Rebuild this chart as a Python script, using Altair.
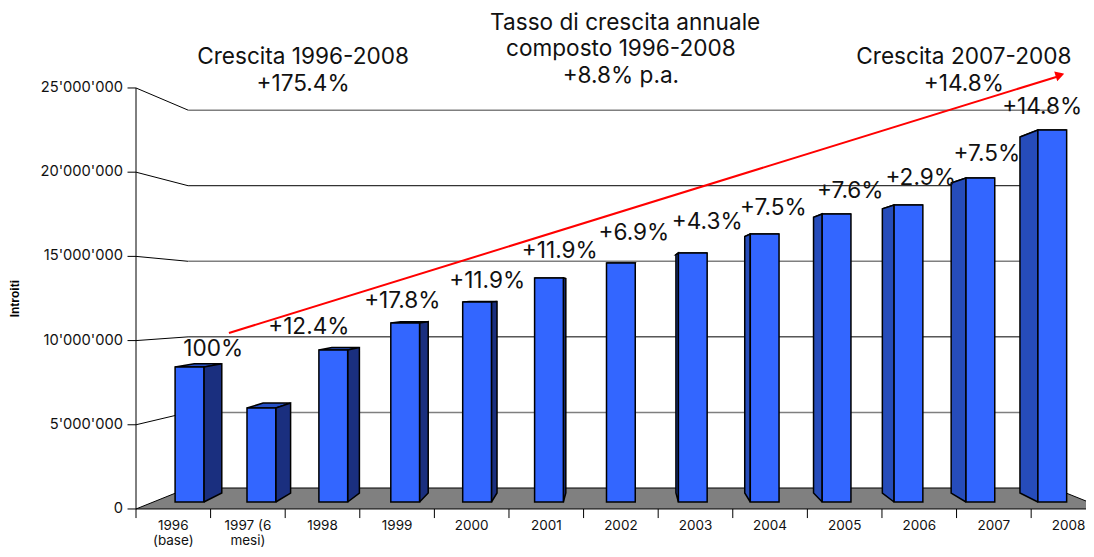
import altair as alt
import pandas as pd

years = ["1996", "1997 (6", "1998", "1999", "2000", "2001", "2002", "2003", "2004", "2005", "2006", "2007", "2008"]
years2 = ["(base)", "mesi)", "", "", "", "", "", "", "", "", "", "", ""]
revenue = [8.33, 5.8, 9.38, 11.05, 12.35, 13.83, 14.75, 15.37, 16.54, 17.78, 18.33, 20.0, 22.96]
ticks = [0, 5, 10, 15, 20, 25]
tick_labels = ["0", "5'000'000", "10'000'000", "15'000'000", "20'000'000", "25'000'000"]

# annotations: text, category position, revenue height (millions, in the bars' plane)
ann_text = ["Tasso di crescita annuale", "composto 1996-2008", "+8.8% p.a.",
            "Crescita 1996-2008", "+175.4%", "Crescita 2007-2008", "+14.8%",
            "100%", "+12.4%", "+17.8%", "+11.9%", "+11.9%", "+6.9%", "+4.3%",
            "+7.5%", "+7.6%", "+2.9%", "+7.5%", "+14.8%"]
ann_x = [6.06, 6.0, 6.0, 1.58, 1.58, 10.77, 10.77,
         0.33, 1.66, 2.96, 4.14, 5.15, 6.18, 7.2, 8.12, 9.19, 10.17, 11.09, 11.86]
ann_v = [29.57, 27.96, 26.3, 27.47, 25.8, 27.47, 25.8,
         9.44, 10.8, 12.4, 13.64, 15.5, 16.6, 17.3, 18.15, 19.2, 20.0, 21.5, 24.4]

X_MIN, X_MAX = -2.524, 12.469
Y_MIN, Y_MAX = -2.901, 30.494
VX, VY, VY_FRONT = 6.0, 12.9, 10.9
S_BAR = 0.957          # depth of a bar
SX_F, SY_F = 1.0375, 1.0395   # front of floor / axis plane
SX_B, SY_B = 0.926, 0.933     # back wall plane
HW = 0.2

xs = alt.Scale(domain=[X_MIN, X_MAX], range=[0, 1078], nice=False, zero=False)
ys = alt.Scale(domain=[Y_MIN, Y_MAX], range=[541, 0], nice=False, zero=False)
X = alt.X("x:Q", scale=xs, axis=None)
Y = alt.Y("y:Q", scale=ys, axis=None)


def px(x, s):
    return VX + (x - VX) * s


def py(v, s, vy=VY):
    return vy + (v - vy) * s


def fy(v):
    return py(v, SY_F, VY_FRONT)


def poly(rows, pid, pts):
    pts = list(pts) + [pts[0]]
    for k, (a, b) in enumerate(pts):
        rows.append({"pid": pid, "k": k, "x": a, "y": b})


def polygon_layer(rows, fill, width=1.5):
    return alt.Chart(pd.DataFrame(rows)).mark_line(
        fill=fill, stroke="black", strokeWidth=width, strokeJoin="miter"
    ).encode(x=X, y=Y, detail="pid:N", order="k:Q")


def line_layer(rows, color="black", width=1):
    return alt.Chart(pd.DataFrame(rows)).mark_line(stroke=color, strokeWidth=width).encode(
        x=X, y=Y, detail="pid:N", order="k:Q")


# walls / grid: tick, slanted wall line, then the line along the back wall
seg, back_black, back_gray = [], [], []
for sid, t in enumerate(ticks):
    pts = [(px(-0.5, SX_F) - 0.118, fy(t)), (px(-0.5, SX_F), fy(t))]
    if t > 0:
        pts.append((px(-0.5, SX_B), py(t, SY_B)))
        back = back_gray if t in (5, 15, 25) else back_black
        back.append({"pid": sid, "k": 0, "x": px(-0.5, SX_B), "y": py(t, SY_B)})
        back.append({"pid": sid, "k": 1, "x": px(12.5, SX_B), "y": py(t, SY_B)})
    for k, (a, b) in enumerate(pts):
        seg.append({"pid": sid, "k": k, "x": a, "y": b})
for k, t in enumerate([0, 25]):
    seg.append({"pid": 99, "k": k, "x": px(-0.5, SX_F), "y": fy(t)})
grid = line_layer(seg)
grid_black = line_layer(back_black)
grid_gray = line_layer(back_gray, "#7F7F7F", 1.5)

# floor
floor_rows = []
poly(floor_rows, 0, [(px(-0.5, SX_F), fy(0)), (px(12.5, SX_F), fy(0)),
                     (px(12.5, SX_B), py(0, SY_B)), (px(-0.5, SX_B), py(0, SY_B))])
floor = polygon_layer(floor_rows, "#808080", 1)

# axis ticks under the floor
tk = []
for i in range(14):
    xx = px(i - 0.5, SX_F)
    tk.append({"pid": i, "k": 0, "x": xx, "y": fy(0)})
    tk.append({"pid": i, "k": 1, "x": xx, "y": fy(0) - 0.56})
tick_marks = line_layer(tk)

# bar faces
right_rows, left_rows, top_rows = [], [], []
for i, v in enumerate(revenue):
    l, r = i - HW, i + HW
    bl, br = px(l, S_BAR), px(r, S_BAR)
    top_b, base_b = py(v, S_BAR), py(0, S_BAR)
    poly(top_rows, i, [(l, v), (r, v), (br, top_b), (bl, top_b)])
    if r < VX:
        poly(right_rows, i, [(r, 0), (r, v), (br, top_b), (br, base_b)])
    if l > VX:
        poly(left_rows, i, [(l, 0), (l, v), (bl, top_b), (bl, base_b)])

tops = polygon_layer(top_rows, "#2650C4")
rights = polygon_layer(right_rows, "#1A2F7F")
lefts = polygon_layer(left_rows, "#264CBA")

bars_df = pd.DataFrame({"l": [i - HW for i in range(13)], "r": [i + HW for i in range(13)],
                        "v": revenue, "z": [0] * 13})
fronts = alt.Chart(bars_df).mark_rect(fill="#3366FF", stroke="black", strokeWidth=1.5).encode(
    x=alt.X("l:Q", scale=xs, axis=None), x2="r:Q",
    y=alt.Y("v:Q", scale=ys, axis=None), y2="z:Q")

# arrow
arrow_df = pd.DataFrame({"x": [0.549, 12.1], "y": [10.43, 26.3], "k": [0, 1]})
arrow = alt.Chart(arrow_df).mark_line(stroke="#FF0000", strokeWidth=2).encode(x=X, y=Y, order="k:Q")
head = alt.Chart(pd.DataFrame({"x": [12.1], "y": [26.35]})).mark_point(
    shape="triangle-up", angle=72.7, filled=True, fill="#FF0000", stroke="#FF0000", size=45, opacity=1
).encode(x=X, y=Y)

FONT = "Inter"
ann = alt.Chart(pd.DataFrame({"x": ann_x, "y": ann_v, "t": ann_text})).mark_text(
    font=FONT, fontSize=22.6, color="#111111", align="center", baseline="middle"
).encode(x=X, y=Y, text="t:N")

ylab = alt.Chart(pd.DataFrame({"x": [px(-0.5, SX_F) - 0.18] * 6, "y": [fy(t) for t in ticks],
                               "t": tick_labels})).mark_text(
    font=FONT, fontSize=14.7, color="#111111", align="right", baseline="middle"
).encode(x=X, y=Y, text="t:N")

cat_x = [px(i, SX_F) for i in range(13)]
cat1 = alt.Chart(pd.DataFrame({"x": cat_x, "y": [-1.48] * 13, "t": years})).mark_text(
    font=FONT, fontSize=13.5, color="#111111", align="center", baseline="middle"
).encode(x=X, y=Y, text="t:N")
cat2 = alt.Chart(pd.DataFrame({"x": cat_x, "y": [-2.41] * 13, "t": years2})).mark_text(
    font=FONT, fontSize=13.5, color="#111111", align="center", baseline="middle"
).encode(x=X, y=Y, text="t:N")

ytitle = alt.Chart(pd.DataFrame({"x": [-2.42], "y": [12.55], "t": ["Introiti"]})).mark_text(
    font="Liberation Sans", fontSize=12, fontWeight="bold", color="black", angle=270,
    align="center", baseline="middle"
).encode(x=X, y=Y, text="t:N")

chart = alt.layer(grid, grid_black, grid_gray, floor, tick_marks, tops, rights, lefts, fronts,
                  arrow, head, ann, ylab, cat1, cat2, ytitle).properties(
    width=1078, height=541, padding=0,
    autosize=alt.AutoSizeParams(type="none"),
    background="white",
).configure_view(stroke=None)

chart.save("out.html", embed_options={"renderer": "svg", "actions": False})
